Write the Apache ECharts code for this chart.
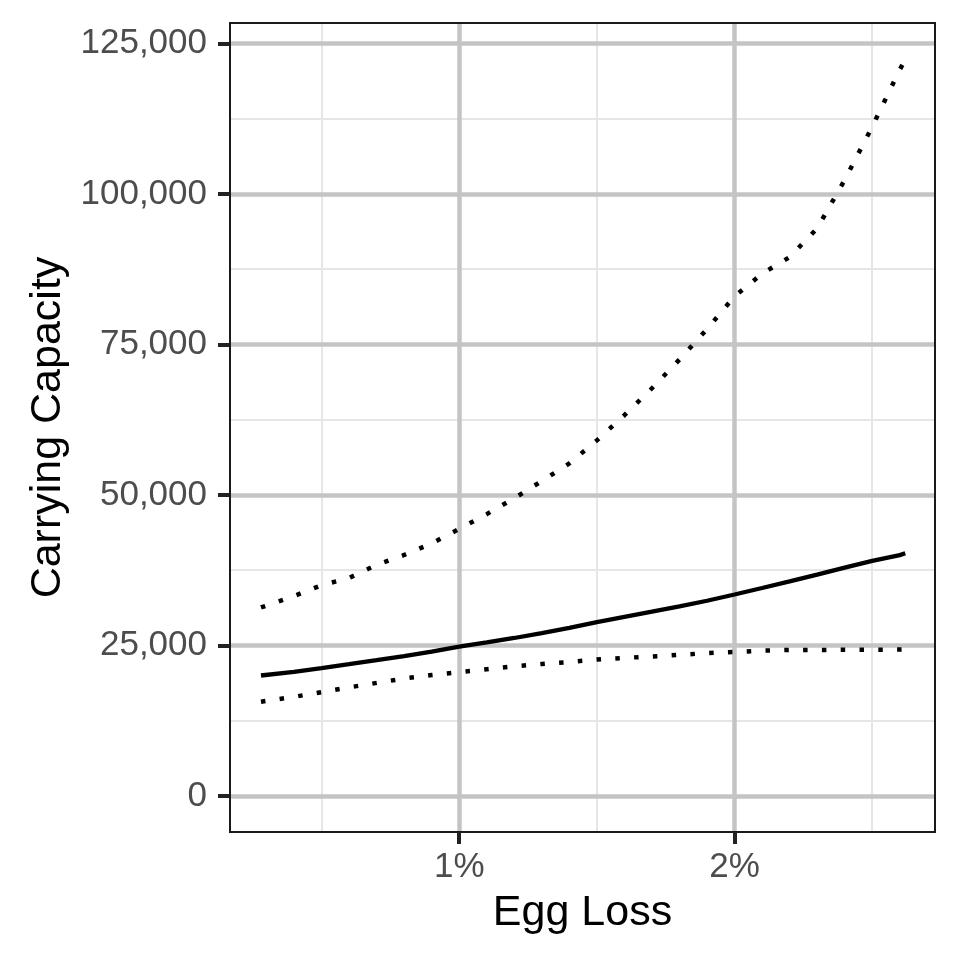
<!DOCTYPE html>
<html>
<head>
<meta charset="utf-8">
<script src="https://cdn.jsdelivr.net/npm/echarts@6/dist/echarts.min.js"></script>
<style>
html,body{margin:0;padding:0;background:#fff;}
#chart{width:960px;height:960px;}
</style>
</head>
<body>
<div id="chart"></div>
<script>
// Egg loss (%)
var eggLoss = [0.28, 0.4, 0.5, 0.6, 0.7, 0.8, 0.9, 1.0, 1.1, 1.2, 1.3, 1.4, 1.5, 1.6, 1.7, 1.8, 1.9, 2.0, 2.1, 2.2, 2.3, 2.4, 2.5, 2.6, 2.62];
// Carrying capacity: central estimate
var capacityMid = [20000, 20600, 21230, 21880, 22550, 23230, 23980, 24800, 25500, 26230, 27050, 27900, 28880, 29740, 30600, 31470, 32420, 33460, 34540, 35640, 36760, 37930, 39050, 40000, 40300];
// Upper bound
var capacityUpper = [31300, 33200, 35000, 36200, 38370, 40020, 41950, 44350, 46810, 49450, 52300, 55240, 59060, 63240, 67720, 72490, 77550, 82990, 86750, 89500, 94290, 102320, 111180, 120650, 122300];
// Lower bound
var capacityLower = [15650, 16450, 17240, 18030, 18770, 19500, 20070, 20560, 21040, 21520, 21910, 22250, 22650, 22930, 23160, 23430, 23720, 23900, 24120, 24240, 24240, 24270, 24290, 24300, 24350];

var xMajorTicks = [1, 2];
var xMinorTicks = [0.5, 1.5, 2.5];
var yMajorTicks = [0, 25000, 50000, 75000, 100000, 125000];
var yMinorTicks = [12500, 37500, 62500, 87500, 112500];

var xTitle = 'Egg Loss';
var yTitle = 'Carrying Capacity';

function pairs(xs, ys) { return xs.map(function (x, i) { return [x, ys[i]]; }); }

var FONT = '"Liberation Sans", Arial, Helvetica, sans-serif';
var XMIN = 0.1675, XMAX = 2.728, YMIN = -6000, YMAX = 128400;

var chart = echarts.init(document.getElementById('chart'), null, {renderer: 'canvas'});
chart.setOption({
  animation: false,
  backgroundColor: '#ffffff',
  grid: {left: 230, right: 25, top: 23, bottom: 128, show: true, borderColor: '#1a1a1a', borderWidth: 2, backgroundColor: 'transparent', z: 2},
  xAxis: [
    {
      // major vertical grid lines
      type: 'value', min: XMIN, max: XMAX, position: 'bottom', z: 1,
      axisLine: {show: false, onZero: false},
      axisTick: {show: false, customValues: xMajorTicks},
      axisLabel: {show: false},
      splitLine: {show: true, lineStyle: {color: '#c4c4c4', width: 4.5}}
    },
    {
      // minor vertical grid lines
      type: 'value', min: XMIN, max: XMAX, position: 'top', z: 0,
      axisLine: {show: false, onZero: false},
      axisTick: {show: false, customValues: xMinorTicks},
      axisLabel: {show: false},
      splitLine: {show: true, lineStyle: {color: '#e6e6e6', width: 2}}
    },
    {
      // ticks, labels, title
      type: 'value', min: XMIN, max: XMAX, position: 'bottom', z: 10,
      name: xTitle, nameLocation: 'middle', nameGap: 60,
      nameTextStyle: {fontSize: 43, color: '#000', fontFamily: FONT},
      axisLine: {show: false, onZero: false},
      axisTick: {show: true, inside: false, length: 12, customValues: xMajorTicks, lineStyle: {color: '#222222', width: 4}},
      axisLabel: {show: true, customValues: xMajorTicks, margin: 18, fontSize: 35, color: '#4d4d4d', fontFamily: FONT,
        formatter: function (v) { return v + '%'; }},
      splitLine: {show: false}
    }
  ],
  yAxis: [
    {
      type: 'value', min: YMIN, max: YMAX, position: 'left', z: 1,
      name: yTitle, nameLocation: 'middle', nameGap: 160, nameRotate: 90,
      nameTextStyle: {fontSize: 43, color: '#000', fontFamily: FONT},
      axisLine: {show: false, onZero: false},
      axisTick: {show: true, inside: false, length: 12, customValues: yMajorTicks, lineStyle: {color: '#222222', width: 4}},
      axisLabel: {show: true, customValues: yMajorTicks, margin: 23, fontSize: 35, color: '#4d4d4d', fontFamily: FONT,
        formatter: function (v) { return Math.round(v).toLocaleString('en-US'); }},
      splitLine: {show: true, lineStyle: {color: '#c4c4c4', width: 4.5}}
    },
    {
      type: 'value', min: YMIN, max: YMAX, position: 'right', z: 0,
      axisLine: {show: false, onZero: false},
      axisTick: {show: false, customValues: yMinorTicks},
      axisLabel: {show: false},
      splitLine: {show: true, lineStyle: {color: '#e6e6e6', width: 2}}
    }
  ],
  series: [
    {type: 'line', xAxisIndex: 0, yAxisIndex: 0, data: pairs(eggLoss, capacityUpper), showSymbol: false, z: 5,
      lineStyle: {color: '#000', width: 4.5, type: [4.5, 14.3], cap: 'butt'}},
    {type: 'line', xAxisIndex: 0, yAxisIndex: 0, data: pairs(eggLoss, capacityMid), showSymbol: false, z: 5,
      lineStyle: {color: '#000', width: 4.3, type: 'solid'}},
    {type: 'line', xAxisIndex: 0, yAxisIndex: 0, data: pairs(eggLoss, capacityLower), showSymbol: false, z: 5,
      lineStyle: {color: '#000', width: 4.5, type: [4.5, 14.3], cap: 'butt'}}
  ]
});
</script>
</body>
</html>
